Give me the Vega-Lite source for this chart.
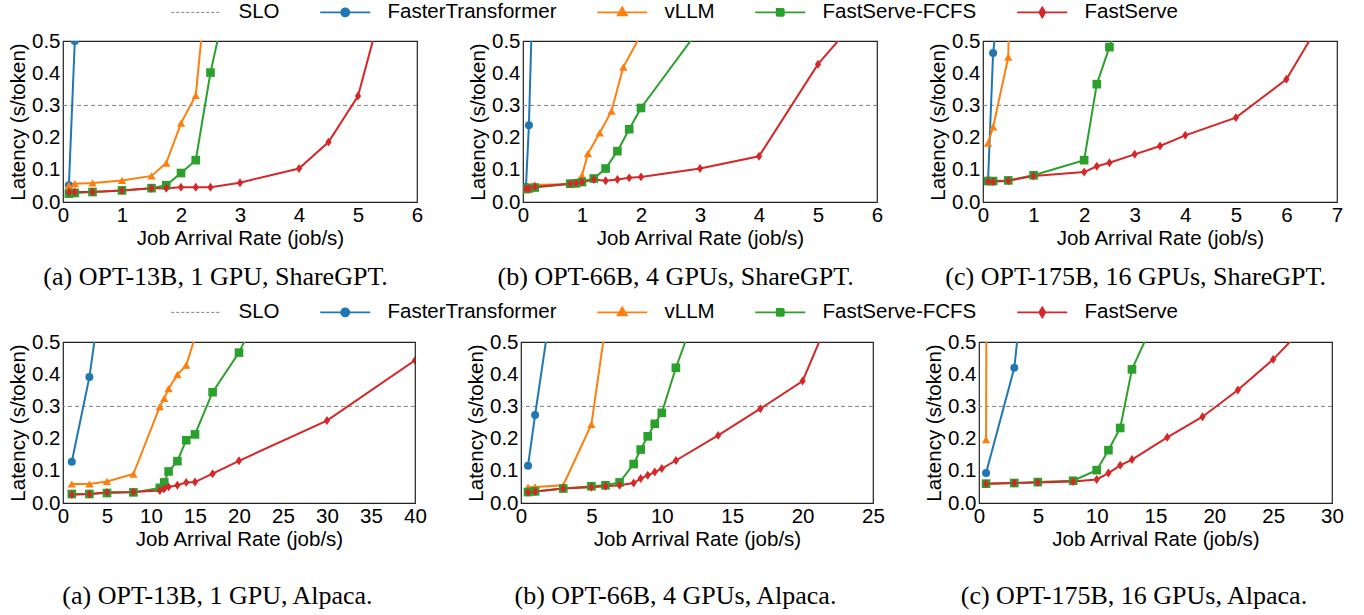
{
"$schema": "https://vega.github.io/schema/vega-lite/v6.json",
"padding": {"left": 7, "top": 2, "right": 5, "bottom": 5},
"background": "white",
"config": {
  "font": "Liberation Sans",
  "view": {"stroke": "#222", "strokeWidth": 1.2},
  "axis": {"domain": false, "ticks": false, "tickSize": 0, "grid": false, "labelFont": "Liberation Sans", "labelFontSize": 20.5, "labelColor": "#000", "titleFont": "Liberation Sans", "titleFontSize": 20.5, "titleFontWeight": "normal", "titleColor": "#000", "labelPadding": 3, "titlePadding": 3, "labelFlush": false, "labelOverlap": false, "labelBound": false},
  "legend": {"labelFont": "Liberation Sans", "labelFontSize": 20.5, "labelColor": "#000", "padding": 0, "labelLimit": 0},
  "title": {"font": "Liberation Serif", "fontSize": 26, "fontWeight": "normal", "color": "#000", "anchor": "middle", "frame": "bounds"}
},
"datasets": {
"a1": [
{"series":"FasterTransformer","rate":0.1,"latency":0.052},{"series":"FasterTransformer","rate":0.2,"latency":0.5},{"series":"FasterTransformer","rate":0.3,"latency":1.5},
{"series":"vLLM","rate":0.1,"latency":0.052},{"series":"vLLM","rate":0.2,"latency":0.057},{"series":"vLLM","rate":0.5,"latency":0.059},{"series":"vLLM","rate":1,"latency":0.067},{"series":"vLLM","rate":1.5,"latency":0.081},{"series":"vLLM","rate":1.75,"latency":0.121},{"series":"vLLM","rate":2,"latency":0.245},{"series":"vLLM","rate":2.25,"latency":0.331},{"series":"vLLM","rate":2.5,"latency":0.8},
{"series":"FastServe-FCFS","rate":0.1,"latency":0.026},{"series":"FastServe-FCFS","rate":0.2,"latency":0.028},{"series":"FastServe-FCFS","rate":0.5,"latency":0.031},{"series":"FastServe-FCFS","rate":1,"latency":0.036},{"series":"FastServe-FCFS","rate":1.5,"latency":0.043},{"series":"FastServe-FCFS","rate":1.75,"latency":0.052},{"series":"FastServe-FCFS","rate":2,"latency":0.09},{"series":"FastServe-FCFS","rate":2.25,"latency":0.13},{"series":"FastServe-FCFS","rate":2.5,"latency":0.402},{"series":"FastServe-FCFS","rate":2.75,"latency":0.61},
{"series":"FastServe","rate":0.1,"latency":0.031},{"series":"FastServe","rate":0.2,"latency":0.031},{"series":"FastServe","rate":0.5,"latency":0.031},{"series":"FastServe","rate":1,"latency":0.036},{"series":"FastServe","rate":1.5,"latency":0.043},{"series":"FastServe","rate":1.75,"latency":0.043},{"series":"FastServe","rate":2,"latency":0.046},{"series":"FastServe","rate":2.25,"latency":0.046},{"series":"FastServe","rate":2.5,"latency":0.046},{"series":"FastServe","rate":3,"latency":0.06},{"series":"FastServe","rate":4,"latency":0.104},{"series":"FastServe","rate":4.5,"latency":0.186},{"series":"FastServe","rate":5,"latency":0.329},{"series":"FastServe","rate":5.5,"latency":0.67}
],
"b1": [
{"series":"FasterTransformer","rate":0.05,"latency":0.047},{"series":"FasterTransformer","rate":0.1,"latency":0.238},{"series":"FasterTransformer","rate":0.2,"latency":0.89},
{"series":"vLLM","rate":0.05,"latency":0.048},{"series":"vLLM","rate":0.1,"latency":0.05},{"series":"vLLM","rate":0.2,"latency":0.053},{"series":"vLLM","rate":0.8,"latency":0.056},{"series":"vLLM","rate":0.9,"latency":0.058},{"series":"vLLM","rate":1.0,"latency":0.083},{"series":"vLLM","rate":1.1,"latency":0.15},{"series":"vLLM","rate":1.3,"latency":0.215},{"series":"vLLM","rate":1.5,"latency":0.282},{"series":"vLLM","rate":1.7,"latency":0.419},{"series":"vLLM","rate":2.0,"latency":0.52},
{"series":"FastServe-FCFS","rate":0.05,"latency":0.04},{"series":"FastServe-FCFS","rate":0.1,"latency":0.042},{"series":"FastServe-FCFS","rate":0.2,"latency":0.045},{"series":"FastServe-FCFS","rate":0.8,"latency":0.057},{"series":"FastServe-FCFS","rate":0.9,"latency":0.058},{"series":"FastServe-FCFS","rate":1.0,"latency":0.062},{"series":"FastServe-FCFS","rate":1.2,"latency":0.073},{"series":"FastServe-FCFS","rate":1.4,"latency":0.104},{"series":"FastServe-FCFS","rate":1.6,"latency":0.158},{"series":"FastServe-FCFS","rate":1.8,"latency":0.226},{"series":"FastServe-FCFS","rate":2.0,"latency":0.292},{"series":"FastServe-FCFS","rate":3.0,"latency":0.54},
{"series":"FastServe","rate":0.05,"latency":0.041},{"series":"FastServe","rate":0.1,"latency":0.043},{"series":"FastServe","rate":0.2,"latency":0.047},{"series":"FastServe","rate":0.8,"latency":0.057},{"series":"FastServe","rate":0.9,"latency":0.059},{"series":"FastServe","rate":1.0,"latency":0.062},{"series":"FastServe","rate":1.2,"latency":0.07},{"series":"FastServe","rate":1.4,"latency":0.066},{"series":"FastServe","rate":1.6,"latency":0.07},{"series":"FastServe","rate":1.8,"latency":0.075},{"series":"FastServe","rate":2.0,"latency":0.078},{"series":"FastServe","rate":3,"latency":0.104},{"series":"FastServe","rate":4,"latency":0.142},{"series":"FastServe","rate":5,"latency":0.428},{"series":"FastServe","rate":6,"latency":0.64}
],
"c1": [
{"series":"FasterTransformer","rate":0.1,"latency":0.067},{"series":"FasterTransformer","rate":0.2,"latency":0.463},{"series":"FasterTransformer","rate":0.3,"latency":0.6},
{"series":"vLLM","rate":0.1,"latency":0.183},{"series":"vLLM","rate":0.2,"latency":0.233},{"series":"vLLM","rate":0.5,"latency":0.45},{"series":"vLLM","rate":1.0,"latency":5.0},
{"series":"FastServe-FCFS","rate":0.1,"latency":0.065},{"series":"FastServe-FCFS","rate":0.2,"latency":0.065},{"series":"FastServe-FCFS","rate":0.5,"latency":0.067},{"series":"FastServe-FCFS","rate":1.0,"latency":0.083},{"series":"FastServe-FCFS","rate":2.0,"latency":0.13},{"series":"FastServe-FCFS","rate":2.25,"latency":0.366},{"series":"FastServe-FCFS","rate":2.5,"latency":0.481},{"series":"FastServe-FCFS","rate":2.75,"latency":0.6},
{"series":"FastServe","rate":0.1,"latency":0.064},{"series":"FastServe","rate":0.2,"latency":0.063},{"series":"FastServe","rate":0.5,"latency":0.066},{"series":"FastServe","rate":1.0,"latency":0.081},{"series":"FastServe","rate":2.0,"latency":0.093},{"series":"FastServe","rate":2.25,"latency":0.111},{"series":"FastServe","rate":2.5,"latency":0.122},{"series":"FastServe","rate":3.0,"latency":0.148},{"series":"FastServe","rate":3.5,"latency":0.174},{"series":"FastServe","rate":4.0,"latency":0.207},{"series":"FastServe","rate":5.0,"latency":0.262},{"series":"FastServe","rate":6.0,"latency":0.381},{"series":"FastServe","rate":7.0,"latency":0.645}
],
"a2": [
{"series":"FasterTransformer","rate":1,"latency":0.128},{"series":"FasterTransformer","rate":3,"latency":0.391},{"series":"FasterTransformer","rate":5,"latency":0.78},
{"series":"vLLM","rate":1,"latency":0.059},{"series":"vLLM","rate":3,"latency":0.059},{"series":"vLLM","rate":5,"latency":0.067},{"series":"vLLM","rate":8,"latency":0.09},{"series":"vLLM","rate":11,"latency":0.299},{"series":"vLLM","rate":11.5,"latency":0.325},{"series":"vLLM","rate":12,"latency":0.355},{"series":"vLLM","rate":13,"latency":0.399},{"series":"vLLM","rate":14,"latency":0.428},{"series":"vLLM","rate":16,"latency":0.6},
{"series":"FastServe-FCFS","rate":1,"latency":0.028},{"series":"FastServe-FCFS","rate":3,"latency":0.028},{"series":"FastServe-FCFS","rate":5,"latency":0.031},{"series":"FastServe-FCFS","rate":8,"latency":0.033},{"series":"FastServe-FCFS","rate":11,"latency":0.047},{"series":"FastServe-FCFS","rate":11.5,"latency":0.064},{"series":"FastServe-FCFS","rate":12,"latency":0.098},{"series":"FastServe-FCFS","rate":13,"latency":0.13},{"series":"FastServe-FCFS","rate":14,"latency":0.195},{"series":"FastServe-FCFS","rate":15,"latency":0.213},{"series":"FastServe-FCFS","rate":17,"latency":0.344},{"series":"FastServe-FCFS","rate":20,"latency":0.467},{"series":"FastServe-FCFS","rate":22,"latency":0.58},
{"series":"FastServe","rate":1,"latency":0.026},{"series":"FastServe","rate":3,"latency":0.028},{"series":"FastServe","rate":5,"latency":0.033},{"series":"FastServe","rate":8,"latency":0.034},{"series":"FastServe","rate":11,"latency":0.039},{"series":"FastServe","rate":11.5,"latency":0.044},{"series":"FastServe","rate":12,"latency":0.05},{"series":"FastServe","rate":13,"latency":0.055},{"series":"FastServe","rate":14,"latency":0.064},{"series":"FastServe","rate":15,"latency":0.065},{"series":"FastServe","rate":17,"latency":0.091},{"series":"FastServe","rate":20,"latency":0.131},{"series":"FastServe","rate":30,"latency":0.256},{"series":"FastServe","rate":40,"latency":0.443}
],
"b2": [
{"series":"FasterTransformer","rate":0.5,"latency":0.116},{"series":"FasterTransformer","rate":1,"latency":0.273},{"series":"FasterTransformer","rate":2,"latency":0.57},
{"series":"vLLM","rate":0.5,"latency":0.049},{"series":"vLLM","rate":1,"latency":0.05},{"series":"vLLM","rate":3,"latency":0.055},{"series":"vLLM","rate":5,"latency":0.244},{"series":"vLLM","rate":6,"latency":0.55},
{"series":"FastServe-FCFS","rate":0.5,"latency":0.034},{"series":"FastServe-FCFS","rate":1,"latency":0.036},{"series":"FastServe-FCFS","rate":3,"latency":0.045},{"series":"FastServe-FCFS","rate":5,"latency":0.052},{"series":"FastServe-FCFS","rate":6,"latency":0.055},{"series":"FastServe-FCFS","rate":7,"latency":0.064},{"series":"FastServe-FCFS","rate":8,"latency":0.121},{"series":"FastServe-FCFS","rate":8.5,"latency":0.166},{"series":"FastServe-FCFS","rate":9,"latency":0.207},{"series":"FastServe-FCFS","rate":9.5,"latency":0.246},{"series":"FastServe-FCFS","rate":10,"latency":0.28},{"series":"FastServe-FCFS","rate":11,"latency":0.42},{"series":"FastServe-FCFS","rate":12,"latency":0.54},
{"series":"FastServe","rate":0.5,"latency":0.033},{"series":"FastServe","rate":1,"latency":0.036},{"series":"FastServe","rate":3,"latency":0.045},{"series":"FastServe","rate":5,"latency":0.049},{"series":"FastServe","rate":6,"latency":0.052},{"series":"FastServe","rate":7,"latency":0.055},{"series":"FastServe","rate":8,"latency":0.062},{"series":"FastServe","rate":8.5,"latency":0.076},{"series":"FastServe","rate":9,"latency":0.086},{"series":"FastServe","rate":9.5,"latency":0.096},{"series":"FastServe","rate":10,"latency":0.107},{"series":"FastServe","rate":11,"latency":0.132},{"series":"FastServe","rate":14,"latency":0.21},{"series":"FastServe","rate":17,"latency":0.293},{"series":"FastServe","rate":20,"latency":0.379},{"series":"FastServe","rate":22,"latency":0.585}
],
"c2": [
{"series":"FasterTransformer","rate":0.6,"latency":0.093},{"series":"FasterTransformer","rate":3,"latency":0.42},{"series":"FasterTransformer","rate":5,"latency":1.1},
{"series":"vLLM","rate":0.6,"latency":0.197},{"series":"vLLM","rate":1.0,"latency":5.0},
{"series":"FastServe-FCFS","rate":0.6,"latency":0.06},{"series":"FastServe-FCFS","rate":3,"latency":0.062},{"series":"FastServe-FCFS","rate":5,"latency":0.065},{"series":"FastServe-FCFS","rate":8,"latency":0.069},{"series":"FastServe-FCFS","rate":10,"latency":0.102},{"series":"FastServe-FCFS","rate":11,"latency":0.164},{"series":"FastServe-FCFS","rate":12,"latency":0.233},{"series":"FastServe-FCFS","rate":13,"latency":0.415},{"series":"FastServe-FCFS","rate":15,"latency":0.575},
{"series":"FastServe","rate":0.6,"latency":0.06},{"series":"FastServe","rate":3,"latency":0.062},{"series":"FastServe","rate":5,"latency":0.064},{"series":"FastServe","rate":8,"latency":0.067},{"series":"FastServe","rate":10,"latency":0.073},{"series":"FastServe","rate":11,"latency":0.093},{"series":"FastServe","rate":12,"latency":0.117},{"series":"FastServe","rate":13,"latency":0.135},{"series":"FastServe","rate":16,"latency":0.204},{"series":"FastServe","rate":19,"latency":0.268},{"series":"FastServe","rate":22,"latency":0.351},{"series":"FastServe","rate":25,"latency":0.446},{"series":"FastServe","rate":28,"latency":0.56}
]
},
"vconcat": [
{"hconcat": [
{"width": 354, "height": 161, "data": {"name": "a1"},
 "title": {"text": "(a) OPT-13B, 1 GPU, ShareGPT.", "orient": "bottom", "offset": 15},
 "layer": [
  {"data": {"values": [{}]}, "mark": {"type": "rule", "strokeDash": [4, 3], "strokeWidth": 1}, "encoding": {"y": {"datum": 0.3, "type": "quantitative", "axis": {"values": [0,0.1,0.2,0.3,0.4,0.5], "tickCount": 6, "format": ".1f", "labelOverlap": false, "title": "Latency (s/token)"}}, "color": {"datum": "SLO", "type": "nominal"}}},
  {"mark": {"type": "line", "clip": true, "strokeWidth": 2}, "encoding": {
    "x": {"field": "rate", "type": "quantitative", "scale": {"domain": [0, 6], "nice": false}, "axis": {"values": [0,1,2,3,4,5,6], "format": "d", "labelOverlap": false, "title": "Job Arrival Rate (job/s)"}},
    "y": {"field": "latency", "type": "quantitative", "scale": {"domain": [0, 0.5], "nice": false}, "axis": {"values": [0,0.1,0.2,0.3,0.4,0.5], "tickCount": 6, "format": ".1f", "labelOverlap": false, "title": "Latency (s/token)"}},
    "color": {"field": "series", "type": "nominal", "scale": {"domain": ["SLO","FasterTransformer","vLLM","FastServe-FCFS","FastServe"], "range": ["#808080","#1f77b4","#ff7f0e","#2ca02c","#d62728"]},
      "legend": {"title": null, "orient": "none", "direction": "horizontal", "legendX": 123, "legendY": -39, "symbolSize": 400, "labelOffset": 32, "columnPadding": 36, "labelLimit": 0,
        "encode": {"symbols": {"update": {
          "shape": {"signal": "datum.value === 'SLO' ? 'M-2.5,0L2.5,0' : datum.value === 'FasterTransformer' ? 'M-2.5,0L2.5,0M0.4,0A0.4,0.4,0,1,1,-0.4,0A0.4,0.4,0,1,1,0.4,0Z' : datum.value === 'vLLM' ? 'M-2.5,0L2.5,0M0,-0.5L0.45,0.3L-0.45,0.3Z' : datum.value === 'FastServe-FCFS' ? 'M-2.5,0L2.5,0M-0.35,-0.35L0.35,-0.35L0.35,0.35L-0.35,0.35Z' : 'M-2.5,0L2.5,0M0,-0.5L0.3,0L0,0.5L-0.3,0Z'"},
          "fill": {"signal": "datum.value === 'SLO' ? 'transparent' : datum.value === 'FasterTransformer' ? '#1f77b4' : datum.value === 'vLLM' ? '#ff7f0e' : datum.value === 'FastServe-FCFS' ? '#2ca02c' : '#d62728'"},
          "stroke": {"signal": "datum.value === 'SLO' ? '#999999' : datum.value === 'FasterTransformer' ? '#1f77b4' : datum.value === 'vLLM' ? '#ff7f0e' : datum.value === 'FastServe-FCFS' ? '#2ca02c' : '#d62728'"},
          "strokeDash": {"signal": "datum.value === 'SLO' ? [3, 2] : [1, 0]"},
          "strokeWidth": {"signal": "datum.value === 'SLO' ? 1 : 1.8"},
          "opacity": {"value": 1}}}}}}}},
  {"mark": {"type": "point", "filled": true, "clip": true, "opacity": 1}, "encoding": {
    "x": {"field": "rate", "type": "quantitative"},
    "y": {"field": "latency", "type": "quantitative"},
    "color": {"field": "series", "type": "nominal"},
    "shape": {"field": "series", "type": "nominal", "scale": {"domain": ["FasterTransformer","vLLM","FastServe-FCFS","FastServe"], "range": ["circle","triangle-up","square","M0,-1L0.7,0L0,1L-0.7,0Z"]}, "legend": null},
    "size": {"field": "series", "type": "ordinal", "scale": {"domain": ["FasterTransformer","vLLM","FastServe-FCFS","FastServe"], "range": [64,80,56,120]}, "legend": null}}}
 ]},
{"width": 354, "height": 161, "data": {"name": "b1"},
 "title": {"text": "(b) OPT-66B, 4 GPUs, ShareGPT.", "orient": "bottom", "offset": 15},
 "layer": [
  {"data": {"values": [{}]}, "mark": {"type": "rule", "strokeDash": [4, 3], "strokeWidth": 1}, "encoding": {"y": {"datum": 0.3, "type": "quantitative", "axis": {"values": [0,0.1,0.2,0.3,0.4,0.5], "tickCount": 6, "format": ".1f", "labelOverlap": false, "title": "Latency (s/token)"}}, "color": {"datum": "SLO", "type": "nominal"}}},
  {"mark": {"type": "line", "clip": true, "strokeWidth": 2}, "encoding": {
    "x": {"field": "rate", "type": "quantitative", "scale": {"domain": [0, 6], "nice": false}, "axis": {"values": [0,1,2,3,4,5,6], "format": "d", "labelOverlap": false, "title": "Job Arrival Rate (job/s)"}},
    "y": {"field": "latency", "type": "quantitative", "scale": {"domain": [0, 0.5], "nice": false}, "axis": {"values": [0,0.1,0.2,0.3,0.4,0.5], "tickCount": 6, "format": ".1f", "labelOverlap": false, "title": "Latency (s/token)"}},
    "color": {"field": "series", "type": "nominal"}}},
  {"mark": {"type": "point", "filled": true, "clip": true, "opacity": 1}, "encoding": {
    "x": {"field": "rate", "type": "quantitative"},
    "y": {"field": "latency", "type": "quantitative"},
    "color": {"field": "series", "type": "nominal"},
    "shape": {"field": "series", "type": "nominal", "legend": null},
    "size": {"field": "series", "type": "ordinal", "legend": null}}}
 ]},
{"width": 354, "height": 161, "data": {"name": "c1"},
 "title": {"text": "(c) OPT-175B, 16 GPUs, ShareGPT.", "orient": "bottom", "offset": 15},
 "layer": [
  {"data": {"values": [{}]}, "mark": {"type": "rule", "strokeDash": [4, 3], "strokeWidth": 1}, "encoding": {"y": {"datum": 0.3, "type": "quantitative", "axis": {"values": [0,0.1,0.2,0.3,0.4,0.5], "tickCount": 6, "format": ".1f", "labelOverlap": false, "title": "Latency (s/token)"}}, "color": {"datum": "SLO", "type": "nominal"}}},
  {"mark": {"type": "line", "clip": true, "strokeWidth": 2}, "encoding": {
    "x": {"field": "rate", "type": "quantitative", "scale": {"domain": [0, 7], "nice": false}, "axis": {"values": [0,1,2,3,4,5,6,7], "format": "d", "labelOverlap": false, "title": "Job Arrival Rate (job/s)"}},
    "y": {"field": "latency", "type": "quantitative", "scale": {"domain": [0, 0.5], "nice": false}, "axis": {"values": [0,0.1,0.2,0.3,0.4,0.5], "tickCount": 6, "format": ".1f", "labelOverlap": false, "title": "Latency (s/token)"}},
    "color": {"field": "series", "type": "nominal"}}},
  {"mark": {"type": "point", "filled": true, "clip": true, "opacity": 1}, "encoding": {
    "x": {"field": "rate", "type": "quantitative"},
    "y": {"field": "latency", "type": "quantitative"},
    "color": {"field": "series", "type": "nominal"},
    "shape": {"field": "series", "type": "nominal", "legend": null},
    "size": {"field": "series", "type": "ordinal", "legend": null}}}
 ]}
], "spacing": 106, "bounds": "flush"},
{"hconcat": [
{"width": 352, "height": 161, "data": {"name": "a2"},
 "title": {"text": "(a) OPT-13B, 1 GPU, Alpaca.", "orient": "bottom", "offset": 33},
 "layer": [
  {"data": {"values": [{}]}, "mark": {"type": "rule", "strokeDash": [4, 3], "strokeWidth": 1}, "encoding": {"y": {"datum": 0.3, "type": "quantitative", "axis": {"values": [0,0.1,0.2,0.3,0.4,0.5], "tickCount": 6, "format": ".1f", "labelOverlap": false, "title": "Latency (s/token)"}}, "color": {"datum": "SLO", "type": "nominal"}}},
  {"mark": {"type": "line", "clip": true, "strokeWidth": 2}, "encoding": {
    "x": {"field": "rate", "type": "quantitative", "scale": {"domain": [0, 40], "nice": false}, "axis": {"values": [0,5,10,15,20,25,30,35,40], "format": "d", "labelOverlap": false, "title": "Job Arrival Rate (job/s)"}},
    "y": {"field": "latency", "type": "quantitative", "scale": {"domain": [0, 0.5], "nice": false}, "axis": {"values": [0,0.1,0.2,0.3,0.4,0.5], "tickCount": 6, "format": ".1f", "labelOverlap": false, "title": "Latency (s/token)"}},
    "color": {"field": "series", "type": "nominal", "scale": {"domain": ["SLO","FasterTransformer","vLLM","FastServe-FCFS","FastServe"], "range": ["#808080","#1f77b4","#ff7f0e","#2ca02c","#d62728"]},
      "legend": {"title": null, "orient": "none", "direction": "horizontal", "legendX": 123, "legendY": -40, "symbolSize": 400, "labelOffset": 32, "columnPadding": 36, "labelLimit": 0,
        "encode": {"symbols": {"update": {
          "shape": {"signal": "datum.value === 'SLO' ? 'M-2.5,0L2.5,0' : datum.value === 'FasterTransformer' ? 'M-2.5,0L2.5,0M0.4,0A0.4,0.4,0,1,1,-0.4,0A0.4,0.4,0,1,1,0.4,0Z' : datum.value === 'vLLM' ? 'M-2.5,0L2.5,0M0,-0.5L0.45,0.3L-0.45,0.3Z' : datum.value === 'FastServe-FCFS' ? 'M-2.5,0L2.5,0M-0.35,-0.35L0.35,-0.35L0.35,0.35L-0.35,0.35Z' : 'M-2.5,0L2.5,0M0,-0.5L0.3,0L0,0.5L-0.3,0Z'"},
          "fill": {"signal": "datum.value === 'SLO' ? 'transparent' : datum.value === 'FasterTransformer' ? '#1f77b4' : datum.value === 'vLLM' ? '#ff7f0e' : datum.value === 'FastServe-FCFS' ? '#2ca02c' : '#d62728'"},
          "stroke": {"signal": "datum.value === 'SLO' ? '#999999' : datum.value === 'FasterTransformer' ? '#1f77b4' : datum.value === 'vLLM' ? '#ff7f0e' : datum.value === 'FastServe-FCFS' ? '#2ca02c' : '#d62728'"},
          "strokeDash": {"signal": "datum.value === 'SLO' ? [3, 2] : [1, 0]"},
          "strokeWidth": {"signal": "datum.value === 'SLO' ? 1 : 1.8"},
          "opacity": {"value": 1}}}}}}}},
  {"mark": {"type": "point", "filled": true, "clip": true, "opacity": 1}, "encoding": {
    "x": {"field": "rate", "type": "quantitative"},
    "y": {"field": "latency", "type": "quantitative"},
    "color": {"field": "series", "type": "nominal"},
    "shape": {"field": "series", "type": "nominal", "scale": {"domain": ["FasterTransformer","vLLM","FastServe-FCFS","FastServe"], "range": ["circle","triangle-up","square","M0,-1L0.7,0L0,1L-0.7,0Z"]}, "legend": null},
    "size": {"field": "series", "type": "ordinal", "scale": {"domain": ["FasterTransformer","vLLM","FastServe-FCFS","FastServe"], "range": [64,80,56,120]}, "legend": null}}}
 ]},
{"width": 352, "height": 161, "data": {"name": "b2"},
 "title": {"text": "(b) OPT-66B, 4 GPUs, Alpaca.", "orient": "bottom", "offset": 33},
 "layer": [
  {"data": {"values": [{}]}, "mark": {"type": "rule", "strokeDash": [4, 3], "strokeWidth": 1}, "encoding": {"y": {"datum": 0.3, "type": "quantitative", "axis": {"values": [0,0.1,0.2,0.3,0.4,0.5], "tickCount": 6, "format": ".1f", "labelOverlap": false, "title": "Latency (s/token)"}}, "color": {"datum": "SLO", "type": "nominal"}}},
  {"mark": {"type": "line", "clip": true, "strokeWidth": 2}, "encoding": {
    "x": {"field": "rate", "type": "quantitative", "scale": {"domain": [0, 25], "nice": false}, "axis": {"values": [0,5,10,15,20,25], "format": "d", "labelOverlap": false, "title": "Job Arrival Rate (job/s)"}},
    "y": {"field": "latency", "type": "quantitative", "scale": {"domain": [0, 0.5], "nice": false}, "axis": {"values": [0,0.1,0.2,0.3,0.4,0.5], "tickCount": 6, "format": ".1f", "labelOverlap": false, "title": "Latency (s/token)"}},
    "color": {"field": "series", "type": "nominal"}}},
  {"mark": {"type": "point", "filled": true, "clip": true, "opacity": 1}, "encoding": {
    "x": {"field": "rate", "type": "quantitative"},
    "y": {"field": "latency", "type": "quantitative"},
    "color": {"field": "series", "type": "nominal"},
    "shape": {"field": "series", "type": "nominal", "legend": null},
    "size": {"field": "series", "type": "ordinal", "legend": null}}}
 ]},
{"width": 353, "height": 161, "data": {"name": "c2"},
 "title": {"text": "(c) OPT-175B, 16 GPUs, Alpaca.", "orient": "bottom", "offset": 33},
 "layer": [
  {"data": {"values": [{}]}, "mark": {"type": "rule", "strokeDash": [4, 3], "strokeWidth": 1}, "encoding": {"y": {"datum": 0.3, "type": "quantitative", "axis": {"values": [0,0.1,0.2,0.3,0.4,0.5], "tickCount": 6, "format": ".1f", "labelOverlap": false, "title": "Latency (s/token)"}}, "color": {"datum": "SLO", "type": "nominal"}}},
  {"mark": {"type": "line", "clip": true, "strokeWidth": 2}, "encoding": {
    "x": {"field": "rate", "type": "quantitative", "scale": {"domain": [0, 30], "nice": false}, "axis": {"values": [0,5,10,15,20,25,30], "format": "d", "labelOverlap": false, "title": "Job Arrival Rate (job/s)"}},
    "y": {"field": "latency", "type": "quantitative", "scale": {"domain": [0, 0.5], "nice": false}, "axis": {"values": [0,0.1,0.2,0.3,0.4,0.5], "tickCount": 6, "format": ".1f", "labelOverlap": false, "title": "Latency (s/token)"}},
    "color": {"field": "series", "type": "nominal"}}},
  {"mark": {"type": "point", "filled": true, "clip": true, "opacity": 1}, "encoding": {
    "x": {"field": "rate", "type": "quantitative"},
    "y": {"field": "latency", "type": "quantitative"},
    "color": {"field": "series", "type": "nominal"},
    "shape": {"field": "series", "type": "nominal", "legend": null},
    "size": {"field": "series", "type": "ordinal", "legend": null}}}
 ]}
], "spacing": 106, "bounds": "flush"}
],
"spacing": 301,
"bounds": "flush",
"resolve": {"scale": {"color": "independent"}, "legend": {"color": "independent"}}
}
